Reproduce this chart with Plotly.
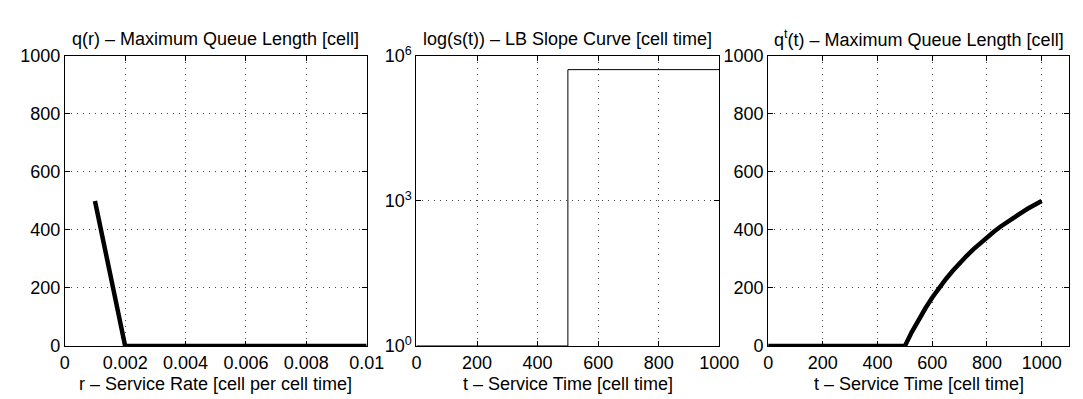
import plotly.graph_objects as go

# Panel 1: q(r) - maximum queue length vs service rate
rate_r = [0.001, 0.002, 0.004, 0.006, 0.008, 0.01]
queue_r = [500, 0, 0, 0, 0, 0]

# Panel 2: s(t) - LB slope curve (log scale)
time_s = [0, 500, 500, 1000]
slope_s = [1, 1, 5.2e5, 5.2e5]

# Panel 3: q^t(t) - maximum queue length vs service time
time_q = [0, 100, 200, 300, 400, 500, 525, 550, 575, 600, 625, 650, 675, 700, 725, 750,
          775, 800, 825, 850, 875, 900, 925, 950, 975, 1000]
queue_t = [0, 0, 0, 0, 0, 0, 48, 91, 130, 167, 200, 231, 259, 286, 310, 333,
           355, 375, 394, 412, 429, 444, 459, 474, 487, 500]

titles = ["q(r) \u2013 Maximum Queue Length [cell]",
          "log(s(t)) \u2013 LB Slope Curve [cell time]",
          "q<sup>t</sup>(t) \u2013 Maximum Queue Length [cell]"]
xtitles = ["r \u2013 Service Rate [cell per cell time]",
           "t \u2013 Service Time [cell time]",
           "t \u2013 Service Time [cell time]"]
x1_ticks = [0, 0.002, 0.004, 0.006, 0.008, 0.01]
x1_text = ["0", "0.002", "0.004", "0.006", "0.008", "0.01"]
x2_ticks = [0, 200, 400, 600, 800, 1000]
x3_ticks = [0, 200, 400, 600, 800, 1000]
y_lin_ticks = [0, 200, 400, 600, 800, 1000]
y_log_ticks = [1, 1e3, 1e6]
y_log_text = ["10<sup>0</sup>", "10<sup>3</sup>", "10<sup>6</sup>"]

W, H = 1083, 399
FONT = "Liberation Sans, Arial, Helvetica, sans-serif"
FS = 18

def px_x(p):
    return p / W

def px_y(p):
    return 1 - p / H

doms = [(53, 362), (413, 723), (773, 1081)]
ydom = [px_y(345), px_y(38)]

fig = go.Figure()
fig.add_trace(go.Scatter(x=rate_r, y=queue_r, mode="lines",
                         line=dict(color="black", width=4.5), xaxis="x", yaxis="y"))
fig.add_trace(go.Scatter(x=time_s, y=slope_s, mode="lines",
                         line=dict(color="black", width=1), xaxis="x2", yaxis="y2"))
fig.add_trace(go.Scatter(x=time_q, y=queue_t, mode="lines",
                         line=dict(color="black", width=4.5),
                         xaxis="x3", yaxis="y3"))

axis_common = dict(showline=True, linecolor="black", linewidth=1, mirror="ticks",
                   ticks="inside", ticklen=5, tickcolor="black", tickwidth=1,
                   showgrid=True, gridcolor="#444444", griddash="1px,5px", gridwidth=1,
                   zeroline=False, tickfont=dict(family=FONT, size=FS, color="black"))

layout = dict(
    width=W, height=H, showlegend=False,
    paper_bgcolor="white", plot_bgcolor="white",
    margin=dict(l=0, r=0, t=0, b=0),
    font=dict(family=FONT, size=FS, color="black"),
)

xranges = [[0, 0.01], [0, 1000], [0, 1100]]
xtickvals = [x1_ticks, x2_ticks, x3_ticks]
xticktext = [x1_text, [str(v) for v in x2_ticks], [str(v) for v in x3_ticks]]
for i in range(3):
    sfx = "" if i == 0 else str(i + 1)
    layout["xaxis" + sfx] = dict(axis_common, domain=[px_x(doms[i][0]), px_x(doms[i][1])],
                                 range=xranges[i], tickvals=xtickvals[i], ticktext=xticktext[i],
                                 anchor="y" + sfx)
    if i == 1:
        layout["yaxis" + sfx] = dict(axis_common, domain=ydom, type="log", range=[0, 6],
                                     tickvals=y_log_ticks, ticktext=y_log_text, anchor="x" + sfx)
    else:
        layout["yaxis" + sfx] = dict(axis_common, domain=ydom, range=[0, 1000],
                                     tickvals=y_lin_ticks, anchor="x" + sfx)

annotations = []
for i in range(3):
    cx = px_x((doms[i][0] + doms[i][1]) / 2)
    annotations.append(dict(text=titles[i], x=cx, y=px_y(20), xref="paper", yref="paper",
                            showarrow=False, xanchor="center", yanchor="middle",
                            font=dict(family=FONT, size=FS, color="black")))
    annotations.append(dict(text=xtitles[i], x=cx, y=px_y(385), xref="paper", yref="paper",
                            showarrow=False, xanchor="center", yanchor="middle",
                            font=dict(family=FONT, size=FS, color="black")))
layout["annotations"] = annotations

fig.update_layout(**layout)
fig.write_html("out.html")
